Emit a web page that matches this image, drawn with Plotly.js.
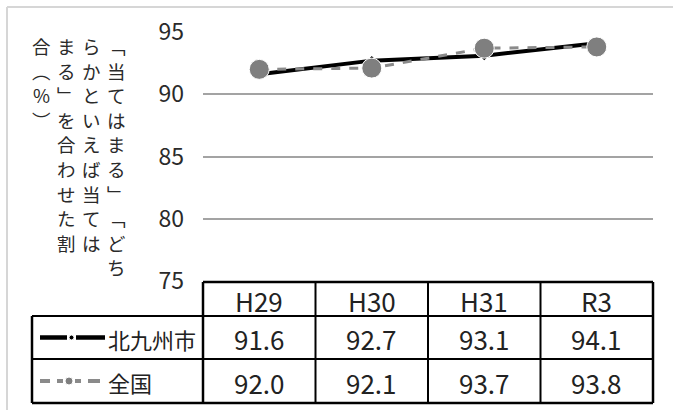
<!DOCTYPE html>
<html><head><meta charset="utf-8">
<script src="https://cdn.plot.ly/plotly-3.0.1.min.js"></script>
<style>html,body{margin:0;padding:0;background:#fff;}#chart{width:673px;height:410px;}</style>
</head><body><div id="chart"></div>
<script>
const categories = ['H29', 'H30', 'H31', 'R3'];
const kitakyushu = [91.6, 92.7, 93.1, 94.1];
const national = [92.0, 92.1, 93.7, 93.8];
const seriesNames = ['北九州市', '全国'];
const yTicks = [75, 80, 85, 90, 95];
const yTitleColumns = ['﹁当てはまる﹂﹁どち', 'らかといえば当ては', 'まる﹂を合わせた割', '合︵%︶'];

const W = 673, H = 410, L = 203, R = 20, T = 32, B = 129;
const pw = W - L - R, ph = H - T - B;
const px2x = p => (p - L) / pw;
const py2y = p => (H - B - p) / ph;
const FONT = '"Noto Sans CJK JP", "Noto Sans", sans-serif';

const traces = [
  {x: categories, y: kitakyushu, name: seriesNames[0], type: 'scatter', mode: 'lines+markers',
   line: {color: '#000000', width: 4}, marker: {symbol: 'diamond', size: 7, color: '#000000'}},
  {x: categories, y: national, name: seriesNames[1], type: 'scatter', mode: 'lines+markers',
   line: {color: '#8a8a8a', width: 3, dash: 'dash'},
   marker: {symbol: 'circle', size: 20, color: '#7f7f7f', line: {color: '#ffffff', width: 1}}}
];

const shapes = [];
const annotations = [];
const lineShape = (x0, y0, x1, y1, w, c, xref) => shapes.push({type: 'line', xref: xref || 'paper', yref: 'paper',
  x0: x0, y0: y0, x1: x1, y1: y1, line: {color: c || '#000', width: w || 2}});

// outer frame
lineShape(px2x(7), py2y(7), px2x(673), py2y(7), 2, '#d6d6d6');
lineShape(px2x(7), py2y(7), px2x(7), py2y(410), 2, '#d6d6d6');

// table grid
const rowY = [282, 316, 359, 403];
lineShape(px2x(203), py2y(rowY[0]), px2x(653), py2y(rowY[0]), 2.5);
[1, 2].forEach(i => lineShape(px2x(32), py2y(rowY[i]), px2x(653), py2y(rowY[i]), 2));
lineShape(px2x(32), py2y(rowY[3]), px2x(653), py2y(rowY[3]), 2.5);
lineShape(px2x(32), py2y(rowY[1]), px2x(32), py2y(rowY[3]), 2.5);
lineShape(px2x(203), py2y(rowY[0]), px2x(203), py2y(rowY[3]), 2.5);
lineShape(px2x(653), py2y(rowY[0]), px2x(653), py2y(rowY[3]), 2.5);
for (let i = 0; i < categories.length - 1; i++) {
  shapes.push({type: 'line', xref: 'x', yref: 'paper', x0: i + 0.5, x1: i + 0.5,
    y0: py2y(rowY[0]), y1: py2y(rowY[3]), line: {color: '#000', width: 2}});
}

// legend swatches
const r1 = (rowY[1] + rowY[2]) / 2, r2 = (rowY[2] + rowY[3]) / 2;
lineShape(px2x(40), py2y(r1), px2x(67), py2y(r1), 4.5, '#000');
lineShape(px2x(76), py2y(r1), px2x(105), py2y(r1), 4.5, '#000');
shapes.push({type: 'circle', xref: 'paper', yref: 'paper', x0: px2x(69), x1: px2x(74), y0: py2y(r1 + 2.5), y1: py2y(r1 - 2.5),
  fillcolor: '#000', line: {color: '#fff', width: 1}});
lineShape(px2x(40), py2y(r2), px2x(50), py2y(r2), 4, '#8a8a8a');
lineShape(px2x(57), py2y(r2), px2x(63), py2y(r2), 4, '#8a8a8a');
lineShape(px2x(75), py2y(r2), px2x(81), py2y(r2), 4, '#8a8a8a');
lineShape(px2x(88), py2y(r2), px2x(100), py2y(r2), 4, '#8a8a8a');
shapes.push({type: 'circle', xref: 'paper', yref: 'paper', x0: px2x(65), x1: px2x(73), y0: py2y(r2 + 4), y1: py2y(r2 - 4),
  fillcolor: '#7f7f7f', line: {color: '#fff', width: 1}});

// legend labels
[r1, r2].forEach((ry, k) => annotations.push({xref: 'paper', yref: 'paper', x: px2x(106), y: py2y(ry + 1),
  xanchor: 'left', yanchor: 'middle', showarrow: false, text: seriesNames[k],
  font: {family: FONT, size: 22, color: '#222'}}));

// table header and values
const headY = (rowY[0] + rowY[1]) / 2;
const seriesVals = [kitakyushu, national];
categories.forEach((c, i) => {
  annotations.push({xref: 'x', yref: 'paper', x: i, y: py2y(headY + 1), xanchor: 'center', yanchor: 'middle',
    showarrow: false, text: c, font: {family: FONT, size: 26, color: '#222'}});
  [r1, r2].forEach((ry, k) => annotations.push({xref: 'x', yref: 'paper', x: i, y: py2y(ry + 1),
    xanchor: 'center', yanchor: 'middle', showarrow: false, text: seriesVals[k][i].toFixed(1),
    font: {family: FONT, size: 26, color: '#222'}}));
});

// vertical y-axis title (columns read right to left, characters top to bottom)
const colX = [116, 91, 66, 41];
const charStep = 24.6, firstCharY = 46;
yTitleColumns.forEach((col, k) => Array.from(col).forEach((ch, j) => annotations.push({
  xref: 'paper', yref: 'paper', x: px2x(colX[k]), y: py2y(firstCharY + j * charStep),
  xanchor: 'center', yanchor: 'middle', showarrow: false, text: ch, borderpad: 0,
  font: {family: FONT, size: 18.5, color: '#2a2a2a'}})));

const layout = {
  width: W, height: H, margin: {l: L, r: R, t: T, b: B, pad: 0},
  paper_bgcolor: '#fff', plot_bgcolor: '#fff', showlegend: false,
  font: {family: FONT},
  xaxis: {type: 'category', range: [-0.5, categories.length - 0.5], showticklabels: false, showgrid: false,
    zeroline: false, showline: false, ticks: ''},
  yaxis: {range: [75, 95], tickvals: yTicks, ticktext: yTicks.map(String), showgrid: true, gridcolor: '#a3a3a3',
    gridwidth: 2, zeroline: false, showline: false, ticks: '', ticklabelstandoff: 18,
    tickfont: {family: FONT, size: 23, color: '#2a2a2a'}},
  shapes: shapes, annotations: annotations
};

Plotly.newPlot('chart', traces, layout, {displayModeBar: false, staticPlot: true});
</script></body></html>
